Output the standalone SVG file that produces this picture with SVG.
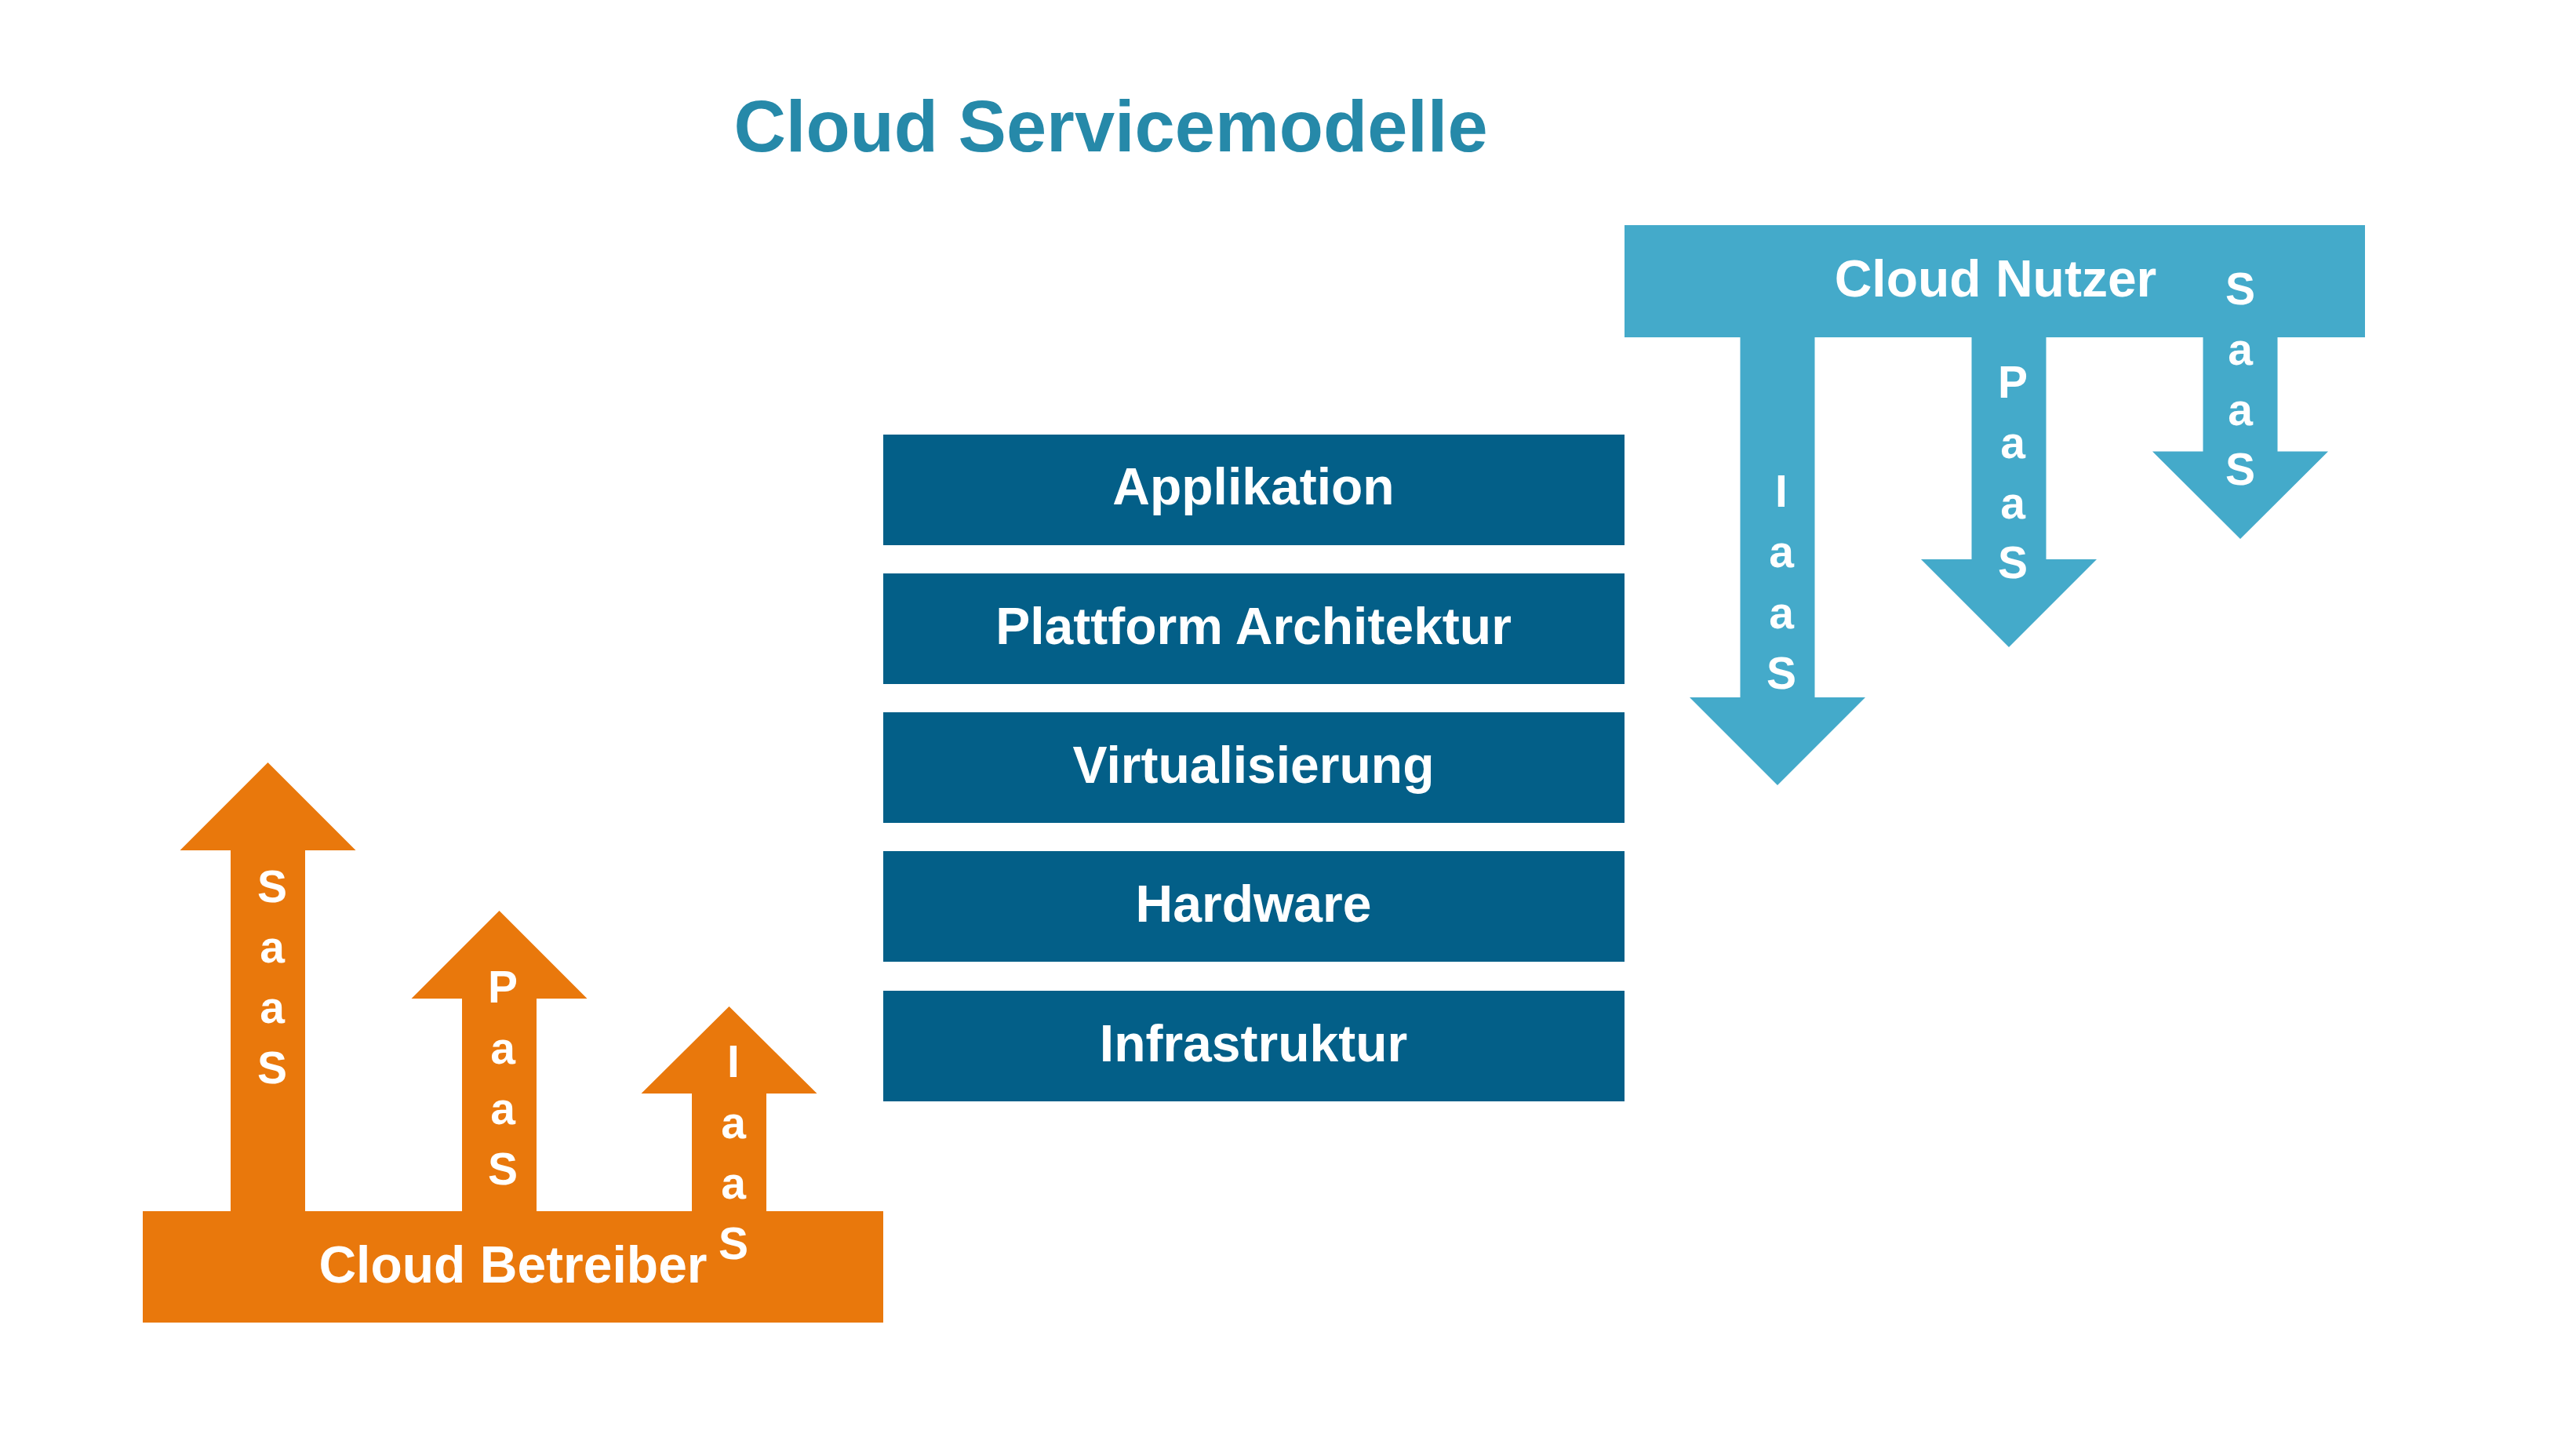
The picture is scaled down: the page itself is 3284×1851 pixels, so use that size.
<svg xmlns="http://www.w3.org/2000/svg" width="3284" height="1851" viewBox="0 0 3284 1851">
<style>
.t{font-family:"Liberation Sans",Arial,sans-serif;font-weight:bold;fill:#fff;text-anchor:middle}
.title{font-family:"Liberation Sans",Arial,sans-serif;font-weight:bold;fill:#2689A9;text-anchor:middle;font-size:92px}
.lbl{font-size:66px}
.v{font-size:57px}
.layer{fill:#035F88}
.or{fill:#E9780C}
.bl{fill:#44AACA}
</style>
<rect width="3284" height="1851" fill="#fff"/>
<g id="title"><text class="title" x="1416" y="193">Cloud Servicemodelle</text></g>

<g id="layer-applikation"><rect class="layer" x="1126" y="554" width="945" height="141"/><text class="t lbl" x="1598" y="643">Applikation</text></g>
<g id="layer-plattform"><rect class="layer" x="1126" y="731" width="945" height="141"/><text class="t lbl" x="1598" y="821">Plattform Architektur</text></g>
<g id="layer-virtualisierung"><rect class="layer" x="1126" y="908" width="945" height="141"/><text class="t lbl" x="1598" y="998">Virtualisierung</text></g>
<g id="layer-hardware"><rect class="layer" x="1126" y="1085" width="945" height="141"/><text class="t lbl" x="1598" y="1175">Hardware</text></g>
<g id="layer-infrastruktur"><rect class="layer" x="1126" y="1263" width="945" height="141"/><text class="t lbl" x="1598" y="1353">Infrastruktur</text></g>

<g id="cloud-betreiber">
<rect class="or" x="182" y="1544" width="944" height="142"/>
<text class="t lbl" x="654" y="1635">Cloud Betreiber</text>
</g>
<g id="cloud-nutzer">
<rect class="bl" x="2071" y="287" width="944" height="143"/>
<text class="t lbl" x="2544" y="378">Cloud Nutzer</text>
</g>

<g id="connectors">
<g id="betreiber-saas">
<polygon class="or" points="294,1550 294,1084 229.5,1084 341.5,972 453.5,1084 389,1084 389,1550"/>
<text class="t v"><tspan x="347" y="1150">S</tspan><tspan x="347" y="1227">a</tspan><tspan x="347" y="1304">a</tspan><tspan x="347" y="1381">S</tspan></text>
</g>
<g id="betreiber-paas">
<polygon class="or" points="589,1550 589,1273 524.5,1273 636.5,1161 748.5,1273 684,1273 684,1550"/>
<text class="t v"><tspan x="641" y="1278">P</tspan><tspan x="641" y="1356">a</tspan><tspan x="641" y="1433">a</tspan><tspan x="641" y="1510">S</tspan></text>
</g>
<g id="betreiber-iaas">
<polygon class="or" points="882,1550 882,1394 817.5,1394 929.5,1283 1041.5,1394 977,1394 977,1550"/>
<text class="t v"><tspan x="935" y="1373">I</tspan><tspan x="935" y="1451">a</tspan><tspan x="935" y="1528">a</tspan><tspan x="935" y="1605">S</tspan></text>
</g>
<g id="nutzer-iaas">
<polygon class="bl" points="2218.5,425 2218.5,889 2154,889 2266,1001 2378,889 2313.5,889 2313.5,425"/>
<text class="t v"><tspan x="2271" y="646">I</tspan><tspan x="2271" y="723">a</tspan><tspan x="2271" y="801">a</tspan><tspan x="2271" y="878">S</tspan></text>
</g>
<g id="nutzer-paas">
<polygon class="bl" points="2513.5,425 2513.5,713 2449,713 2561,825 2673,713 2608.5,713 2608.5,425"/>
<text class="t v"><tspan x="2566" y="507">P</tspan><tspan x="2566" y="584">a</tspan><tspan x="2566" y="661">a</tspan><tspan x="2566" y="737">S</tspan></text>
</g>
<g id="nutzer-saas">
<polygon class="bl" points="2808.5,425 2808.5,575.5 2744,575.5 2856,687 2968,575.5 2903.5,575.5 2903.5,425"/>
<text class="t v"><tspan x="2856" y="388">S</tspan><tspan x="2856" y="465">a</tspan><tspan x="2856" y="542">a</tspan><tspan x="2856" y="618">S</tspan></text>
</g>
</g>
</svg>
